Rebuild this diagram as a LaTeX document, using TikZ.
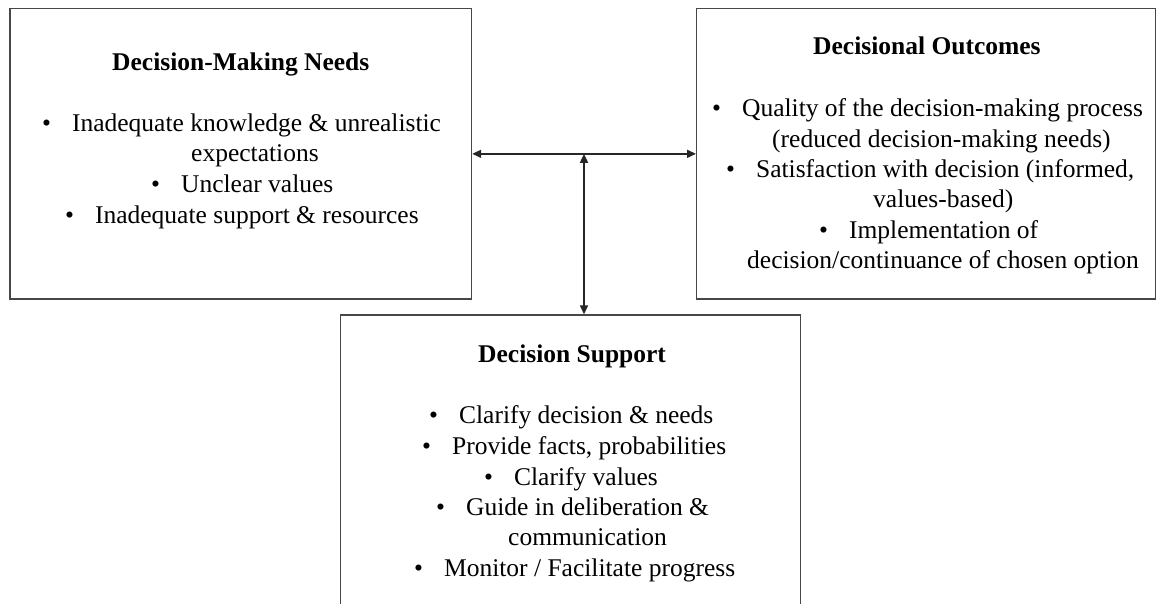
\documentclass[tikz,border=0pt]{standalone}
\usepackage{fontspec}
\setmainfont{Liberation Serif}
\usetikzlibrary{arrows.meta}
\tikzset{
  box/.style={draw=black!72, line width=1.4pt, inner sep=0pt, rectangle},
  txt/.style={anchor=base west, inner sep=0pt, font=\fontsize{25.5}{31}\selectfont},
  ttl/.style={txt, font=\fontsize{25.5}{31}\selectfont\bfseries},
  conn/.style={draw=black!85, line width=1.6pt, {Triangle[length=9pt,width=8pt]}-{Triangle[length=9pt,width=8pt]}}
}
\newcommand{\bul}{\textbullet\hspace{21pt}}
\begin{document}
\begin{tikzpicture}[x=1pt,y=-1pt]
\useasboundingbox (0,0) rectangle (1157,604);
\clip (0,0) rectangle (1157,604);
\fill[white] (0,0) rectangle (1157,604);
% boxes
\node[box, minimum width=461.5pt, minimum height=290.3pt] (L) at (240.75,153.85) {};
\node[box, minimum width=459pt, minimum height=290.3pt] (R) at (926.2,153.85) {};
\node[box, minimum width=460pt, minimum height=305pt] (B) at (570.7,467.5) {};
% left text
\node[ttl] (Lt) at (112,71) {Decision-Making Needs};
\node[txt] (L1) at (42,132) {\bul Inadequate knowledge \& unrealistic};
\node[txt] (L2) at (191,162) {expectations};
\node[txt] (L3) at (151,193) {\bul Unclear values};
\node[txt] (L4) at (65,224) {\bul Inadequate support \& resources};
% right text
\node[ttl] (Rt) at (813,55) {Decisional Outcomes};
\node[txt] (R1) at (712,117) {\bul Quality of the decision-making process};
\node[txt] (R2) at (772,148) {(reduced decision-making needs)};
\node[txt] (R3) at (726,178) {\bul Satisfaction with decision (informed,};
\node[txt] (R4) at (873,208) {values-based)};
\node[txt] (R5) at (819,239) {\bul Implementation of};
\node[txt] (R6) at (747,269) {decision/continuance of chosen option};
% bottom text
\node[ttl] (Bt) at (478,362) {Decision Support};
\node[txt] (B1) at (429,423) {\bul Clarify decision \& needs};
\node[txt] (B2) at (422,454) {\bul Provide facts, probabilities};
\node[txt] (B3) at (484,485) {\bul Clarify values};
\node[txt] (B4) at (436,515) {\bul Guide in deliberation \&};
\node[txt] (B5) at (508,545) {communication};
\node[txt] (B6) at (414,576) {\bul Monitor / Facilitate progress};
% connectors
\coordinate (J) at (584,153.85);
\draw[conn] (L.east) -- (R.west);
\draw[conn] (J) -- (J |- B.north);
\end{tikzpicture}
\end{document}
